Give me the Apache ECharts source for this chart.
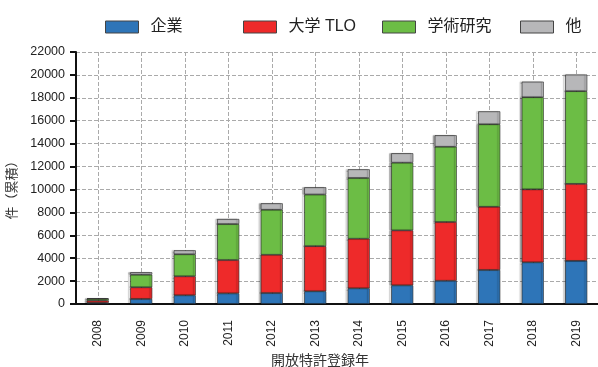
<!DOCTYPE html>
<html><head><meta charset="utf-8">
<script src="https://cdn.jsdelivr.net/npm/echarts@6/dist/echarts.min.js"></script>
<style>html,body{margin:0;padding:0;background:#fff}#c{width:598px;height:367px}</style>
</head><body><div id="c"></div>
<script>
const years = ['2008','2009','2010','2011','2012','2013','2014','2015','2016','2017','2018','2019'];
const kigyo = [100, 440, 760, 930, 960, 1110, 1370, 1630, 2030, 2970, 3640, 3770];
const daigaku = [200, 1020, 1660, 2910, 3340, 3940, 4330, 4800, 5130, 5520, 6370, 6720];
const gakujutsu = [150, 1100, 1920, 3140, 3930, 4510, 5300, 5910, 6570, 7200, 8040, 8090];
const hoka = [50, 210, 350, 440, 560, 630, 760, 820, 1000, 1130, 1360, 1450];
const seriesNames = ['企業', '大学 TLO', '学術研究', '他'];
const colors = ['#2e75b8', '#ee2a2a', '#6cbd45', '#b7b7b9'];
const legendLeft = [100, 238, 377, 515];

const chart = echarts.init(document.getElementById('c'));
const font = '"Liberation Sans", "Noto Sans CJK JP", sans-serif';
const mk = (name, data, color) => ({
  name, type: 'bar', stack: 'a', data, barWidth: 22,
  itemStyle: { color, borderColor: '#222', borderWidth: 0.6,
    shadowColor: 'rgba(0,0,0,0.35)', shadowOffsetX: -2, shadowBlur: 1 },
  emphasis: { disabled: true }
});
chart.setOption({
  animation: false,
  textStyle: { fontFamily: font },
  legend: seriesNames.map((n, i) => ({
    left: legendLeft[i], top: 14, itemWidth: 33, itemHeight: 12,
    icon: 'rect', selectedMode: false,
    itemStyle: { borderColor: '#444', borderWidth: 1 },
    textStyle: { fontSize: 16, color: '#222', padding: [0, 0, 0, 7], fontFamily: font },
    data: [n]
  })),
  grid: { left: 76, right: 0, top: 52, bottom: 63, outerBoundsMode: 'none', containLabel: false },
  xAxis: {
    type: 'category', data: years,
    name: '開放特許登録年', nameLocation: 'middle', nameGap: 50,
    nameTextStyle: { fontSize: 14, color: '#333', padding: [0, 34, 0, 0] },
    axisLine: { lineStyle: { color: '#111', width: 2 } },
    axisTick: { alignWithLabel: true, length: 6, lineStyle: { color: '#111', width: 2 } },
    axisLabel: { rotate: 90, margin: 16, fontSize: 12, color: '#222' },
    splitLine: { show: true, alignWithLabel: true, lineStyle: { type: 'dashed', color: '#aaa' } }
  },
  yAxis: {
    type: 'value', min: 0, max: 22000, interval: 2000,
    name: '件（累積）', nameLocation: 'middle', nameGap: 53, nameRotate: 90,
    nameTextStyle: { fontSize: 13, color: '#333', padding: [0, 18, 0, 0] },
    axisLine: { show: true, lineStyle: { color: '#111', width: 2 } },
    axisTick: { show: true, length: 6, lineStyle: { color: '#111', width: 2 } },
    axisLabel: { margin: 11, fontSize: 12.5, color: '#222', formatter: v => String(v) },
    splitLine: { lineStyle: { type: 'dashed', color: '#aaa' } }
  },
  series: [
    mk(seriesNames[0], kigyo, colors[0]),
    mk(seriesNames[1], daigaku, colors[1]),
    mk(seriesNames[2], gakujutsu, colors[2]),
    mk(seriesNames[3], hoka, colors[3])
  ]
});
</script></body></html>
